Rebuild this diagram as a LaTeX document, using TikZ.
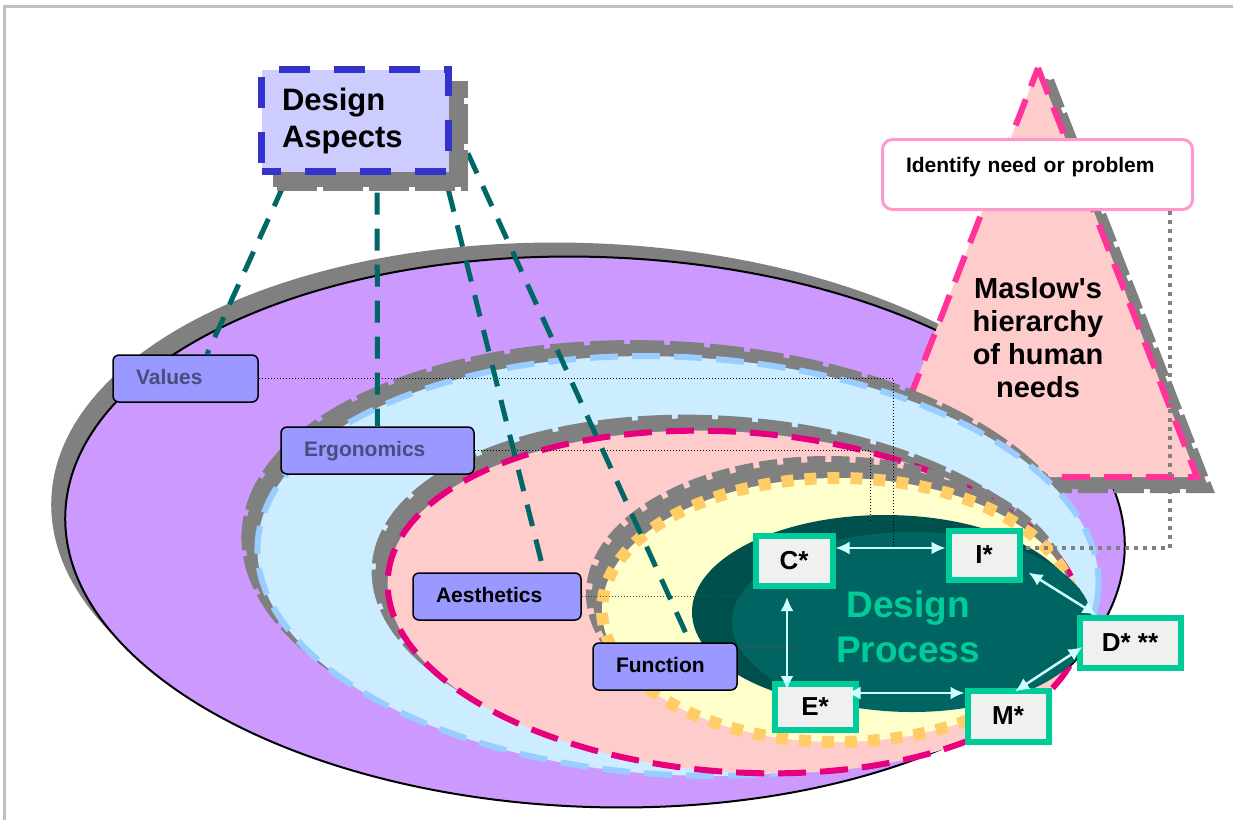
\documentclass[tikz,border=0pt]{standalone}
\usepackage{fontspec}
\setmainfont{Liberation Sans}
\usetikzlibrary{arrows.meta}

\definecolor{framegray}{HTML}{C0C0C0}
\definecolor{shadowgray}{HTML}{808080}
\definecolor{valuepurple}{HTML}{CC99FF}
\definecolor{ergoblue}{HTML}{CCECFF}
\definecolor{ergodash}{HTML}{99CCFF}
\definecolor{aesthpink}{HTML}{FFCCCC}
\definecolor{aesthdash}{HTML}{E6007E}
\definecolor{funcyellow}{HTML}{FFFFCC}
\definecolor{funcdots}{HTML}{FFCC66}
\definecolor{coredark}{HTML}{00504E}
\definecolor{coreteal}{HTML}{006462}
\definecolor{procgreen}{HTML}{00CC99}
\definecolor{procgray}{HTML}{F0F0F0}
\definecolor{flowcyan}{HTML}{CCFFFF}
\definecolor{labelblue}{HTML}{9999FF}
\definecolor{labeltext}{HTML}{4B4B7D}
\definecolor{aspectblue}{HTML}{3333CC}
\definecolor{aspectfill}{HTML}{CCCCFF}
\definecolor{aspectteal}{HTML}{006666}
\definecolor{maslowpink}{HTML}{FF3399}
\definecolor{needpink}{HTML}{FF99CC}

\begin{document}
\begin{tikzpicture}[x=1pt, y=-1pt,
    ringshadow/.style={fill=shadowgray, draw=shadowgray, line width=8pt, dash pattern=on 34pt off 6pt},
    labelbox/.style={draw=black, line width=1.5pt, fill=labelblue, rounded corners=6pt,
        minimum height=47pt, inner xsep=23pt, inner ysep=0pt, align=left,
        text height=15pt, text depth=4pt, font=\fontsize{21}{25}\selectfont\bfseries},
    procbox/.style={draw=procgreen, line width=6pt, fill=procgray, inner sep=0pt,
        font=\fontsize{26}{30}\selectfont\bfseries},
    flow/.style={draw=flowcyan, line width=2.5pt,
        {Latex[length=14pt,width=13pt]}-{Latex[length=14pt,width=13pt]}},
    aspectline/.style={draw=aspectteal, line width=5pt, dash pattern=on 22pt off 14pt},
    linkdots/.style={draw=black, line width=0.9pt, dash pattern=on 1pt off 2pt},
    needdots/.style={draw=shadowgray, line width=4pt, dash pattern=on 4pt off 5pt}]

    \useasboundingbox (0,0) rectangle (1233,820);
    \draw[framegray, line width=3pt] (4,820) -- (4,6) -- (1233,6);

    % values ring
    \fill[shadowgray] (581,518) ellipse [x radius=530, y radius=275, rotate=-2];
    \draw[fill=valuepurple, line width=2pt] (595,532) ellipse [x radius=530, y radius=275, rotate=-2];

    % Maslow triangle
    \coordinate (apex) at (1038,68);
    \coordinate (baseL) at (879,477);
    \coordinate (baseR) at (1197,477);
    \draw[ringshadow, dash pattern=on 30pt off 6pt] ([shift={(12,12)}]apex) -- ([shift={(12,12)}]baseR)
        -- ([shift={(12,12)}]baseL) -- cycle;
    \draw[fill=aesthpink, draw=maslowpink, line width=6pt, dash pattern=on 28pt off 14pt]
        (apex) -- (baseR) -- (baseL) -- cycle;
    \node[font=\fontsize{29}{33}\selectfont\bfseries, align=center] (maslow) at (1038,338)
        {Maslow\textquotesingle s\\hierarchy\\of human\\needs};

    % ergonomics and aesthetics rings
    \foreach \cx / \cy / \rx / \ry / \rot / \ringfill / \ringdash in
        {678/566/421/209/-3/ergoblue/ergodash, 735/602/348/170/-4/aesthpink/aesthdash}
        {
            \draw[ringshadow] (\cx-12,\cy-12) ellipse [x radius=\rx, y radius=\ry, rotate=\rot];
            \draw[fill=\ringfill, draw=\ringdash, line width=6pt, dash pattern=on 28pt off 14pt]
                (\cx,\cy) ellipse [x radius=\rx, y radius=\ry, rotate=\rot];
        }

    % function ring
    \draw[ringshadow, line width=12pt, dash pattern=on 18pt off 6pt] (828,594) ellipse [x radius=236, y radius=132];
    \draw[fill=funcyellow, draw=funcdots, line width=12pt, dash pattern=on 12pt off 11pt]
        (838,610) ellipse [x radius=236, y radius=132];

    % design process core
    \fill[coredark] (885,612) ellipse [x radius=193, y radius=97];
    \fill[coreteal] (912,622) ellipse [x radius=180, y radius=90];
    \node[text=procgreen, font=\fontsize{37}{45}\selectfont\bfseries, align=center] (process) at (908,627)
        {Design\\Process};

    % aspect labels
    \node[labelbox, text width=99pt, text=labeltext] (values) at (185.5,378.5) {Values};
    \node[labelbox, text width=147pt, text=labeltext] (ergonomics) at (377.5,450.5) {Ergonomics};
    \node[labelbox, text width=122pt] (aesthetics) at (497,596.5) {Aesthetics};
    \node[labelbox, text width=98pt] (function) at (665,666.5) {Function};

    % process steps
    \foreach \nm / \x / \y / \w / \h / \txt in
        {c/794/561/77/50/C*, i/984/555/71/49/I*, d/1130/643/101/50/D* **,
         e/815/707/81/46/E*, m/1008/716/81/51/M*}
        {
            \node[procbox, minimum width=\w pt, minimum height=\h pt] (\nm) at (\x,\y) {\txt};
        }

    \node[draw=needpink, line width=3pt, fill=white, rounded corners=10pt, minimum height=70pt,
        inner xsep=23.5pt, text width=263pt, align=left, font=\fontsize{21}{25}\selectfont\bfseries]
        (need) at (1037.5,174.5) {Identify need or problem\\[-6pt]\mbox{}};

    % dotted links
    \coordinate (valuesend) at (893,548);
    \coordinate (ergoend) at (870,522);
    \coordinate (aesthend) at (750,596.5);
    \coordinate (funcend) at (798,646);
    \draw[linkdots] (values.east) -| (valuesend);
    \draw[linkdots] (ergonomics.east) -| (ergoend);
    \draw[linkdots, draw=black!70, line width=0.7pt] (aesthetics.east) -- (aesthend);
    \draw[draw=black!70, line width=0.7pt] ([yshift=20.5pt]function.east) -- (funcend);
    \draw[needdots] ([xshift=132.5pt]need.south) |- ([yshift=7pt]i.east);

    % aspect lines
    \coordinate (aspecthub) at (355,120.5);
    \draw[aspectline] ([xshift=-42pt]aspecthub) -- ([xshift=21.5pt]values.north);
    \draw[aspectline] ([xshift=22pt]aspecthub) -- (ergonomics.north);
    \draw[aspectline] ([xshift=76pt]aspecthub) -- ([xshift=47pt]aesthetics.north);
    \draw[aspectline] ([xshift=98pt]aspecthub) -- ([xshift=25pt]function.north);

    % process flow
    \draw[flow] ([yshift=13pt]c.east) -- ([yshift=7pt]i.west);
    \draw[flow] ([xshift=-7pt,yshift=-8pt]c.south) -- ([xshift=-28pt,yshift=-9pt]e.north);
    \draw[flow] ([xshift=-12pt,yshift=14pt]e.east) -- ([yshift=23pt]m.west);
    \draw[flow] ([xshift=6pt,yshift=10pt]i.south east) -- ([xshift=20pt]d.north west);
    \draw[flow] ([xshift=6pt,yshift=-4pt]d.west) -- ([xshift=7pt,yshift=-4pt]m.north);

    % design aspects box
    \node[draw=shadowgray, fill=shadowgray, line width=8pt, dash pattern=on 40pt off 6pt,
        minimum width=187pt, minimum height=102pt] (aspectshadow) at ([shift={(15,15)}]aspecthub) {};
    \node[draw=aspectblue, fill=aspectfill, line width=7pt, dash pattern=on 31pt off 24pt, dash phase=12pt,
        minimum width=187pt, minimum height=102pt, inner xsep=20.5pt, text width=146pt, align=left,
        font=\fontsize{31}{37}\selectfont\bfseries] (aspects) at (aspecthub) {Design\\Aspects};
\end{tikzpicture}
\end{document}
